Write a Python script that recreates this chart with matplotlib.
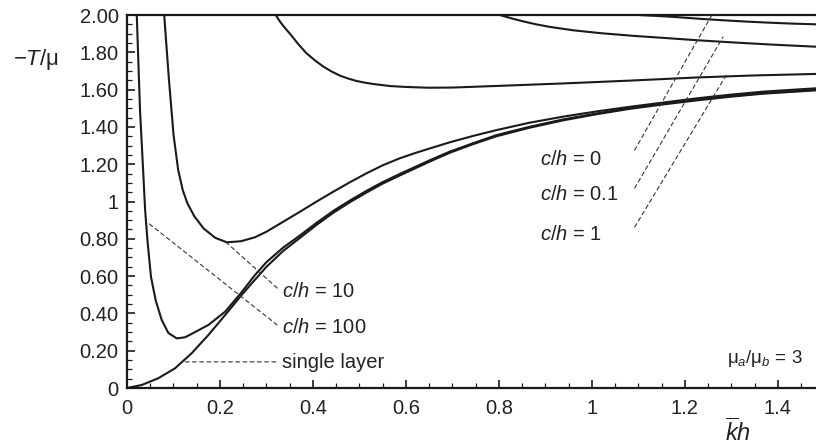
import numpy as np
import matplotlib.pyplot as plt
from matplotlib.ticker import MultipleLocator

plt.rcParams['font.family'] = ['Liberation Sans', 'DejaVu Sans']
plt.rcParams['mathtext.fontset'] = 'custom'
plt.rcParams['mathtext.rm'] = 'Liberation Sans'
plt.rcParams['mathtext.it'] = 'Liberation Sans:italic'

# curves (x = kbar*h, y = -T/mu)
single_x = [0, 0.0315, 0.067, 0.103, 0.139, 0.175, 0.211, 0.247, 0.275, 0.300, 0.336, 0.372,
            0.408, 0.444, 0.48, 0.515, 0.55, 0.587, 0.652, 0.695, 0.745, 0.795, 0.865, 0.938,
            1.01, 1.082, 1.155, 1.225, 1.295, 1.368, 1.482]
single_y = [0, 0.016, 0.052, 0.105, 0.186, 0.284, 0.391, 0.50, 0.58, 0.65, 0.735, 0.805,
            0.875, 0.94, 0.997, 1.048, 1.096, 1.14, 1.215, 1.262, 1.308, 1.35, 1.395, 1.435,
            1.468, 1.497, 1.521, 1.542, 1.561, 1.578, 1.596]

c100_x = [0.021, 0.028, 0.034, 0.039, 0.0445, 0.0516, 0.0617, 0.0746, 0.089, 0.107, 0.125,
          0.139, 0.175, 0.211, 0.247, 0.275, 0.300, 0.336, 0.372, 0.408, 0.444, 0.48, 0.515,
          0.55, 0.587, 0.652, 0.695, 0.745, 0.795, 0.865, 0.938, 1.01, 1.082, 1.155, 1.225,
          1.295, 1.368, 1.482]
c100_y = [2.0, 1.49, 1.20, 0.954, 0.777, 0.596, 0.47, 0.365, 0.295, 0.266, 0.272,
          0.29, 0.338, 0.409, 0.515, 0.605, 0.675, 0.753, 0.818, 0.886, 0.95, 1.006, 1.057,
          1.104, 1.148, 1.222, 1.268, 1.313, 1.356, 1.40, 1.44, 1.472, 1.501, 1.525, 1.546,
          1.564, 1.581, 1.599]

c10_x = [0.080, 0.090, 0.100, 0.110, 0.120, 0.130, 0.145, 0.165, 0.190, 0.215, 0.245, 0.275,
         0.300, 0.335, 0.372, 0.408, 0.444, 0.48, 0.515, 0.55, 0.587, 0.62, 0.652, 0.695, 0.745,
         0.795, 0.865, 0.938, 1.01, 1.082, 1.155, 1.225, 1.295, 1.368, 1.482]
c10_y = [2.0, 1.66, 1.36, 1.17, 1.06, 0.99, 0.92, 0.855, 0.805, 0.781, 0.787, 0.808,
         0.838, 0.89, 0.945, 1.0, 1.053, 1.104, 1.151, 1.194, 1.232, 1.26, 1.285, 1.318, 1.352,
         1.383, 1.422, 1.455, 1.483, 1.508, 1.531, 1.553, 1.572, 1.589, 1.607]

c1_x = [0.320, 0.327, 0.335, 0.343, 0.351, 0.368, 0.386, 0.404, 0.422, 0.440, 0.458, 0.476,
        0.494, 0.512, 0.530, 0.566, 0.601, 0.650, 0.700, 0.800, 0.938, 1.080, 1.225, 1.350, 1.482]
c1_y = [2.0, 1.972, 1.945, 1.921, 1.898, 1.845, 1.795, 1.757, 1.724, 1.697, 1.675, 1.659,
        1.646, 1.637, 1.63, 1.619, 1.614, 1.61, 1.611, 1.62, 1.633, 1.648, 1.665, 1.676, 1.684]

c01_x = [0.802, 0.83, 0.852, 0.88, 0.91, 0.96, 1.017, 1.09, 1.161, 1.23, 1.303, 1.39, 1.482]
c01_y = [2.0, 1.98, 1.966, 1.95, 1.936, 1.918, 1.903, 1.888, 1.876, 1.864, 1.853, 1.841, 1.83]

c0_x = [1.10, 1.14, 1.175, 1.23, 1.28, 1.33, 1.38, 1.43, 1.482]
c0_y = [2.0, 1.995, 1.99, 1.98, 1.972, 1.965, 1.959, 1.954, 1.95]

xticks = [0, 0.2, 0.4, 0.6, 0.8, 1.0, 1.2, 1.4]
xticklabels = ['0', '0.2', '0.4', '0.6', '0.8', '1', '1.2', '1.4']
yticks = [0, 0.2, 0.4, 0.6, 0.8, 1.0, 1.2, 1.4, 1.6, 1.8, 2.0]
yticklabels = ['0', '0.20', '0.40', '0.60', '0.80', '1', '1.20', '1.40', '1.60', '1.80', '2.00']

fig = plt.figure(figsize=(8.16, 4.45), dpi=100)
ax = fig.add_axes([127 / 816, 57 / 445, 1 - 127 / 816, 373 / 445])

ink = '#1a1a1a'
for xs, ys in [(single_x, single_y), (c100_x, c100_y), (c10_x, c10_y),
               (c1_x, c1_y), (c01_x, c01_y), (c0_x, c0_y)]:
    ax.plot(xs, ys, color=ink, lw=1.5, solid_joinstyle='round')

ax.set_xlim(0, 1.482)
ax.set_ylim(0, 2.0)
ax.set_xticks(xticks)
ax.set_xticklabels(xticklabels)
ax.set_yticks(yticks)
ax.set_yticklabels(yticklabels)
ax.xaxis.set_minor_locator(MultipleLocator(0.05))
ax.yaxis.set_minor_locator(MultipleLocator(0.05))
ax.tick_params(which='both', direction='in', top=False, right=False, labelsize=14.5,
               color=ink, labelcolor='#222222')
ax.tick_params(which='major', length=6, width=1.2)
ax.tick_params(which='minor', length=3.5, width=0.9)
ax.tick_params(axis='x', pad=8)
ax.tick_params(axis='y', pad=6)
for s in ['left', 'bottom', 'top']:
    ax.spines[s].set_linewidth(1.6)
    ax.spines[s].set_color(ink)
ax.spines['right'].set_visible(False)

# leader lines and labels
dash = dict(arrowstyle='-', color='#333333', lw=0.8, linestyle=(0, (3.5, 3)), shrinkA=0, shrinkB=0)
labels = [
    ('$c/h$ = 10', (0.333, 0.49), (0.215, 0.777), (0.323, 0.536)),
    ('$c/h$ = 100', (0.333, 0.297), (0.043, 0.89), (0.323, 0.338)),
    ('single layer', (0.333, 0.105), (0.12, 0.14), (0.32, 0.14)),
    ('$c/h$ = 0', (0.888, 1.196), (1.258, 2.0), (1.092, 1.276)),
    ('$c/h$ = 0.1', (0.888, 1.008), (1.282, 1.882), (1.092, 1.072)),
    ('$c/h$ = 1', (0.888, 0.794), (1.292, 1.69), (1.092, 0.863)),
]
for txt, tpos, p0, p1 in labels:
    ax.annotate('', xy=p0, xytext=p1, arrowprops=dash)
    ax.text(tpos[0], tpos[1], txt, fontsize=14.5, ha='left', va='baseline', color='#222222')

ax.text(1.454, 0.132, r'$\mathrm{\mu}_a/\mathrm{\mu}_b$ = 3', fontsize=13.5, ha='right',
        va='baseline', color='#222222')

fig.text(13 / 816, 1 - 65 / 445, r'$-T/\mathrm{\mu}$', fontsize=16, ha='left', va='baseline',
         color='#222222')
fig.text(738 / 816, 1 - 441 / 445, r'$\overline{k}h$', fontsize=17, ha='center', va='baseline',
         color='#222222')

fig.savefig('out.png', dpi=100)
